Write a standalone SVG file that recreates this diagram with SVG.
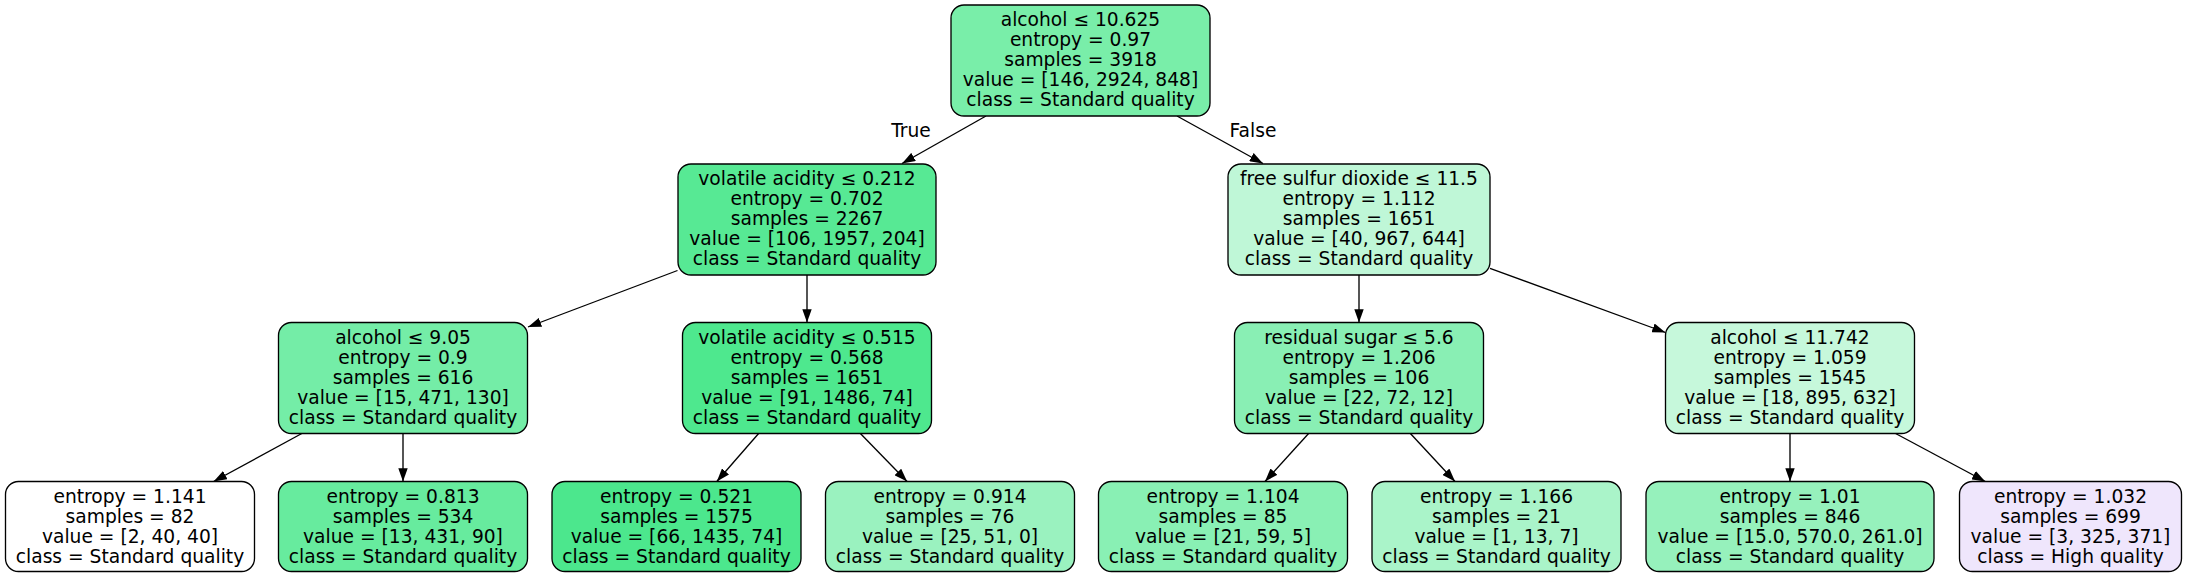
<svg xmlns="http://www.w3.org/2000/svg" width="2187" height="577" viewBox="0 0 2187 577">
<style>
.box{stroke:#000;stroke-width:1.33}
text{font-family:"DejaVu Sans","Liberation Sans",sans-serif;font-size:18.67px;fill:#000;text-anchor:middle}
.edge{stroke:#000;stroke-width:1.33;fill:none;marker-end:url(#arr)}
</style>
<defs>
<marker id="arr" viewBox="0 0 13.3 9.4" refX="13.3" refY="4.7" markerWidth="13.3" markerHeight="9.4" orient="auto" markerUnits="userSpaceOnUse">
<path d="M0,0 L13.3,4.7 L0,9.4 Z" fill="#000"/>
</marker>
</defs>
<rect width="2187" height="577" fill="#fff"/>
<g id="edges">
<line class="edge" x1="986" y1="116" x2="902" y2="163.5"/>
<line class="edge" x1="1177" y1="116" x2="1263" y2="163.5"/>
<line class="edge" x1="677.5" y1="270.5" x2="528" y2="327"/>
<line class="edge" x1="807" y1="275" x2="807" y2="322.5"/>
<line class="edge" x1="301.8" y1="433.5" x2="213.6" y2="481.5"/>
<line class="edge" x1="403" y1="433.5" x2="403" y2="481.5"/>
<line class="edge" x1="758.6" y1="433.5" x2="716.8" y2="481.5"/>
<line class="edge" x1="860.4" y1="433.5" x2="907.1" y2="481.5"/>
<line class="edge" x1="1359" y1="275" x2="1359" y2="322.5"/>
<line class="edge" x1="1490" y1="268.3" x2="1665.5" y2="332.5"/>
<line class="edge" x1="1308.6" y1="433.5" x2="1265" y2="481.5"/>
<line class="edge" x1="1410.4" y1="433.5" x2="1455" y2="481.5"/>
<line class="edge" x1="1790" y1="433.5" x2="1790" y2="481.5"/>
<line class="edge" x1="1895.6" y1="433.5" x2="1985.3" y2="481.5"/>
<text x="911" y="137">True</text>
<text x="1253" y="137">False</text>
</g>
<g id="n0">
<rect class="box" x="951" y="5" width="259" height="111" rx="13" fill="#79eea9"/>
<text x="1080.5" y="26">alcohol ≤ 10.625</text>
<text x="1080.5" y="46">entropy = 0.97</text>
<text x="1080.5" y="66">samples = 3918</text>
<text x="1080.5" y="86">value = [146, 2924, 848]</text>
<text x="1080.5" y="106">class = Standard quality</text>
</g>
<g id="n1">
<rect class="box" x="678" y="164" width="258" height="111" rx="13" fill="#57e994"/>
<text x="807" y="185">volatile acidity ≤ 0.212</text>
<text x="807" y="205">entropy = 0.702</text>
<text x="807" y="225">samples = 2267</text>
<text x="807" y="245">value = [106, 1957, 204]</text>
<text x="807" y="265">class = Standard quality</text>
</g>
<g id="n2">
<rect class="box" x="1228" y="164" width="262" height="111" rx="13" fill="#bff7d7"/>
<text x="1359" y="185">free sulfur dioxide ≤ 11.5</text>
<text x="1359" y="205">entropy = 1.112</text>
<text x="1359" y="225">samples = 1651</text>
<text x="1359" y="245">value = [40, 967, 644]</text>
<text x="1359" y="265">class = Standard quality</text>
</g>
<g id="n3">
<rect class="box" x="278.5" y="322.5" width="249" height="111" rx="13" fill="#74eda7"/>
<text x="403" y="343.5">alcohol ≤ 9.05</text>
<text x="403" y="363.5">entropy = 0.9</text>
<text x="403" y="383.5">samples = 616</text>
<text x="403" y="403.5">value = [15, 471, 130]</text>
<text x="403" y="423.5">class = Standard quality</text>
</g>
<g id="n4">
<rect class="box" x="682.5" y="322.5" width="249" height="111" rx="13" fill="#4ee88e"/>
<text x="807" y="343.5">volatile acidity ≤ 0.515</text>
<text x="807" y="363.5">entropy = 0.568</text>
<text x="807" y="383.5">samples = 1651</text>
<text x="807" y="403.5">value = [91, 1486, 74]</text>
<text x="807" y="423.5">class = Standard quality</text>
</g>
<g id="n5">
<rect class="box" x="1234.5" y="322.5" width="249" height="111" rx="13" fill="#89efb4"/>
<text x="1359" y="343.5">residual sugar ≤ 5.6</text>
<text x="1359" y="363.5">entropy = 1.206</text>
<text x="1359" y="383.5">samples = 106</text>
<text x="1359" y="403.5">value = [22, 72, 12]</text>
<text x="1359" y="423.5">class = Standard quality</text>
</g>
<g id="n6">
<rect class="box" x="1665.5" y="322.5" width="249" height="111" rx="13" fill="#c6f8db"/>
<text x="1790" y="343.5">alcohol ≤ 11.742</text>
<text x="1790" y="363.5">entropy = 1.059</text>
<text x="1790" y="383.5">samples = 1545</text>
<text x="1790" y="403.5">value = [18, 895, 632]</text>
<text x="1790" y="423.5">class = Standard quality</text>
</g>
<g id="n7">
<rect class="box" x="5.5" y="481.5" width="249" height="90" rx="13" fill="#ffffff"/>
<text x="130" y="502.5">entropy = 1.141</text>
<text x="130" y="522.5">samples = 82</text>
<text x="130" y="542.5">value = [2, 40, 40]</text>
<text x="130" y="562.5">class = Standard quality</text>
</g>
<g id="n8">
<rect class="box" x="278.5" y="481.5" width="249" height="90" rx="13" fill="#67eb9e"/>
<text x="403" y="502.5">entropy = 0.813</text>
<text x="403" y="522.5">samples = 534</text>
<text x="403" y="542.5">value = [13, 431, 90]</text>
<text x="403" y="562.5">class = Standard quality</text>
</g>
<g id="n9">
<rect class="box" x="552" y="481.5" width="249" height="90" rx="13" fill="#4ce78d"/>
<text x="676.5" y="502.5">entropy = 0.521</text>
<text x="676.5" y="522.5">samples = 1575</text>
<text x="676.5" y="542.5">value = [66, 1435, 74]</text>
<text x="676.5" y="562.5">class = Standard quality</text>
</g>
<g id="n10">
<rect class="box" x="825.5" y="481.5" width="249" height="90" rx="13" fill="#9af2bf"/>
<text x="950" y="502.5">entropy = 0.914</text>
<text x="950" y="522.5">samples = 76</text>
<text x="950" y="542.5">value = [25, 51, 0]</text>
<text x="950" y="562.5">class = Standard quality</text>
</g>
<g id="n11">
<rect class="box" x="1098.5" y="481.5" width="249" height="90" rx="13" fill="#89f0b4"/>
<text x="1223" y="502.5">entropy = 1.104</text>
<text x="1223" y="522.5">samples = 85</text>
<text x="1223" y="542.5">value = [21, 59, 5]</text>
<text x="1223" y="562.5">class = Standard quality</text>
</g>
<g id="n12">
<rect class="box" x="1372" y="481.5" width="249" height="90" rx="13" fill="#aaf4c9"/>
<text x="1496.5" y="502.5">entropy = 1.166</text>
<text x="1496.5" y="522.5">samples = 21</text>
<text x="1496.5" y="542.5">value = [1, 13, 7]</text>
<text x="1496.5" y="562.5">class = Standard quality</text>
</g>
<g id="n13">
<rect class="box" x="1646" y="481.5" width="288" height="90" rx="13" fill="#96f1bc"/>
<text x="1790" y="502.5">entropy = 1.01</text>
<text x="1790" y="522.5">samples = 846</text>
<text x="1790" y="542.5">value = [15.0, 570.0, 261.0]</text>
<text x="1790" y="562.5">class = Standard quality</text>
</g>
<g id="n14">
<rect class="box" x="1959.5" y="481.5" width="222" height="90" rx="13" fill="#efe6fc"/>
<text x="2070.5" y="502.5">entropy = 1.032</text>
<text x="2070.5" y="522.5">samples = 699</text>
<text x="2070.5" y="542.5">value = [3, 325, 371]</text>
<text x="2070.5" y="562.5">class = High quality</text>
</g>
</svg>
